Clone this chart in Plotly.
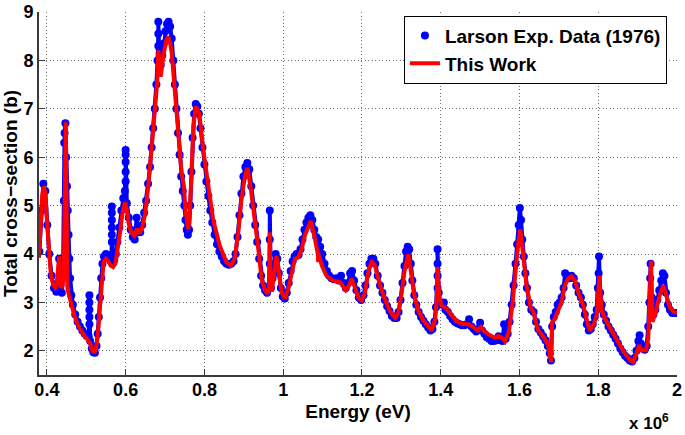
import plotly.graph_objects as go

# Energy in units of 10^6 eV, cross-section in barns
exp_energy = [
    0.381, 0.386, 0.391, 0.396, 0.401, 0.406, 0.412, 0.418, 0.424, 0.428,
    0.431, 0.434, 0.438, 0.441, 0.443, 0.444, 0.445, 0.447, 0.449, 0.451,
    0.453, 0.455, 0.457, 0.459, 0.462, 0.466, 0.472, 0.478, 0.484, 0.490,
    0.496, 0.502, 0.506, 0.508, 0.508, 0.508, 0.508, 0.508, 0.510, 0.514,
    0.518, 0.522, 0.526, 0.529, 0.532, 0.535, 0.538, 0.541, 0.545, 0.550,
    0.555, 0.560, 0.563, 0.565, 0.565, 0.565, 0.565, 0.565, 0.565, 0.567,
    0.571, 0.575, 0.579, 0.584, 0.589, 0.594, 0.598, 0.600, 0.600, 0.600,
    0.600, 0.600, 0.603, 0.608, 0.613, 0.618, 0.623, 0.628, 0.632, 0.637,
    0.642, 0.647, 0.652, 0.657, 0.662, 0.666, 0.670, 0.674, 0.678, 0.681,
    0.683, 0.683, 0.683, 0.686, 0.689, 0.693, 0.697, 0.701, 0.705, 0.709,
    0.713, 0.717, 0.721, 0.725, 0.729, 0.733, 0.737, 0.741, 0.745, 0.749,
    0.752, 0.755, 0.758, 0.761, 0.764, 0.767, 0.770, 0.774, 0.778, 0.782,
    0.786, 0.790, 0.795, 0.800, 0.805, 0.810, 0.815, 0.820, 0.826, 0.832,
    0.838, 0.844, 0.850, 0.856, 0.862, 0.868, 0.874, 0.879, 0.884, 0.889,
    0.894, 0.899, 0.904, 0.909, 0.914, 0.919, 0.924, 0.929, 0.934, 0.939,
    0.944, 0.949, 0.954, 0.959, 0.963, 0.966, 0.966, 0.966, 0.969, 0.973,
    0.977, 0.981, 0.985, 0.989, 0.994, 0.999, 1.004, 1.009, 1.014, 1.019,
    1.024, 1.029, 1.034, 1.039, 1.044, 1.049, 1.054, 1.059, 1.064, 1.069,
    1.074, 1.079, 1.084, 1.089, 1.094, 1.099, 1.105, 1.111, 1.117, 1.123,
    1.129, 1.135, 1.141, 1.147, 1.153, 1.159, 1.165, 1.170, 1.175, 1.180,
    1.186, 1.192, 1.198, 1.204, 1.209, 1.214, 1.219, 1.224, 1.229, 1.234,
    1.240, 1.246, 1.252, 1.258, 1.264, 1.270, 1.276, 1.282, 1.288, 1.293,
    1.298, 1.303, 1.308, 1.312, 1.316, 1.320, 1.324, 1.328, 1.333, 1.338,
    1.344, 1.350, 1.356, 1.362, 1.368, 1.374, 1.379, 1.384, 1.388, 1.392,
    1.392, 1.392, 1.392, 1.395, 1.399, 1.404, 1.408, 1.412, 1.418, 1.424,
    1.430, 1.436, 1.442, 1.448, 1.454, 1.460, 1.466, 1.472, 1.478, 1.484,
    1.490, 1.496, 1.500, 1.505, 1.511, 1.517, 1.523, 1.529, 1.535, 1.541,
    1.547, 1.552, 1.557, 1.561, 1.565, 1.570, 1.575, 1.580, 1.585, 1.590,
    1.594, 1.598, 1.601, 1.604, 1.607, 1.611, 1.615, 1.619, 1.624, 1.630,
    1.636, 1.642, 1.648, 1.654, 1.660, 1.666, 1.672, 1.677, 1.680, 1.683,
    1.687, 1.692, 1.697, 1.702, 1.707, 1.712, 1.716, 1.720, 1.726, 1.732,
    1.738, 1.744, 1.750, 1.756, 1.761, 1.766, 1.771, 1.776, 1.781, 1.786,
    1.791, 1.796, 1.799, 1.801, 1.802, 1.805, 1.809, 1.814, 1.820, 1.826,
    1.832, 1.838, 1.844, 1.850, 1.856, 1.862, 1.868, 1.874, 1.880, 1.886,
    1.892, 1.897, 1.902, 1.905, 1.908, 1.913, 1.918, 1.923, 1.927, 1.930,
    1.932, 1.933, 1.936, 1.940, 1.945, 1.950, 1.955, 1.960, 1.964, 1.968,
    1.972, 1.977, 1.982, 1.988, 1.994, 1.999,
]
exp_sigma = [
    4.05, 4.9, 5.45, 5.3, 4.6, 4.0, 3.55, 3.3, 3.22, 3.4,
    3.9, 3.35, 3.2, 3.6, 5.1, 6.3, 6.5, 6.7, 6.0, 5.4,
    4.9, 4.4, 3.9, 3.5, 3.15, 2.95, 2.75, 2.6, 2.5, 2.42,
    2.35, 2.3, 2.3, 2.55, 2.7, 2.85, 3.0, 3.15, 2.2, 2.05,
    1.97, 1.96, 2.1, 2.35, 2.7, 3.1, 3.5, 3.8, 3.95, 4.0,
    3.98, 3.9, 3.85, 4.25, 4.4, 4.55, 4.7, 4.85, 4.98, 3.85,
    3.88, 4.0, 4.25, 4.55, 4.9, 5.15, 5.3, 5.5, 5.7, 5.9,
    6.05, 6.15, 5.05, 4.75, 4.5, 4.35, 4.3, 4.75, 4.45, 4.45,
    4.6, 4.85, 5.1, 5.45, 5.8, 6.2, 6.6, 7.0, 7.5, 8.0,
    8.3, 8.55, 8.8, 8.0, 7.9, 8.1, 8.35, 8.6, 8.75, 8.8,
    8.7, 8.45, 8.0, 7.5, 7.0, 6.5, 6.05, 5.6, 5.3, 5.0,
    4.7, 4.5, 4.4, 4.5, 5.0, 5.7, 6.4, 6.9, 7.1, 7.05,
    6.9, 6.6, 6.2, 5.85, 5.5, 5.2, 4.9, 4.65, 4.4, 4.2,
    4.05, 3.95, 3.85, 3.8, 3.78, 3.8, 3.85, 4.0, 4.35, 4.8,
    5.25, 5.6, 5.8, 5.88, 5.75, 5.4, 5.0, 4.6, 4.25, 3.9,
    3.55, 3.35, 3.25, 3.2, 3.3, 3.8, 4.3, 4.9, 3.3, 3.5,
    3.75, 4.0, 3.9, 3.6, 3.3, 3.12, 3.08, 3.2, 3.4, 3.65,
    3.85, 3.95, 4.0, 3.98, 4.1, 4.3, 4.5, 4.65, 4.75, 4.8,
    4.7, 4.5, 4.35, 4.3, 4.15, 4.0, 3.8, 3.65, 3.55, 3.5,
    3.48, 3.5, 3.45, 3.55, 3.4, 3.3, 3.4, 3.6, 3.65, 3.45,
    3.25, 3.1, 3.05, 3.15, 3.35, 3.6, 3.8, 3.9, 3.9, 3.8,
    3.55, 3.35, 3.2, 3.05, 2.92, 2.82, 2.72, 2.68, 2.68, 2.8,
    3.05, 3.4, 3.75, 4.05, 4.15, 4.1, 3.8, 3.45, 3.15, 2.95,
    2.8, 2.7, 2.62, 2.55, 2.48, 2.42, 2.45, 2.6, 2.9, 3.3,
    3.55, 3.8, 4.1, 3.2, 3.0, 2.95, 3.0, 2.85, 2.8, 2.72,
    2.65, 2.6, 2.57, 2.55, 2.53, 2.53, 2.55, 2.65, 2.5, 2.45,
    2.4, 2.45, 2.58, 2.42, 2.35, 2.28, 2.25, 2.2, 2.2, 2.22,
    2.3, 2.22, 2.2, 2.55, 2.25, 2.35, 2.6, 2.95, 3.35, 3.8,
    4.2, 4.6, 4.95, 4.7, 4.3, 3.95, 3.6, 3.3, 3.0, 2.85,
    2.8, 2.6, 2.45, 2.38, 2.3, 2.22, 2.1, 1.95, 1.8, 2.5,
    2.7, 2.8, 2.95, 3.0, 3.1, 3.3, 3.6, 3.55, 3.5, 3.55,
    3.5, 3.35, 3.2, 3.1, 2.95, 2.75, 2.55, 2.42, 2.45, 2.55,
    2.7, 2.85, 3.3, 3.6, 3.95, 3.2, 2.95, 2.75, 2.62, 2.5,
    2.42, 2.33, 2.25, 2.15, 2.05, 1.97, 1.9, 1.85, 1.8, 1.78,
    1.85, 2.0, 2.2, 2.32, 2.15, 2.05, 2.02, 2.1, 2.5, 3.0,
    3.5, 3.8, 3.1, 2.75, 2.85, 3.05, 3.25, 3.45, 3.6, 3.55,
    3.2, 2.95, 2.85, 2.78, 2.78, 2.78,
]

model_energy = [
    0.380, 0.384, 0.388, 0.392, 0.396, 0.400, 0.405, 0.410, 0.416, 0.421,
    0.425, 0.428, 0.431, 0.433, 0.436, 0.440, 0.443, 0.446, 0.448, 0.450,
    0.452, 0.456, 0.462, 0.470, 0.479, 0.491, 0.504, 0.510, 0.513, 0.518,
    0.522, 0.527, 0.531, 0.535, 0.539, 0.544, 0.550, 0.556, 0.562, 0.568,
    0.574, 0.580, 0.586, 0.592, 0.599, 0.603, 0.608, 0.614, 0.622, 0.629,
    0.635, 0.642, 0.649, 0.657, 0.666, 0.674, 0.680, 0.683, 0.686, 0.689,
    0.697, 0.703, 0.708, 0.713, 0.717, 0.725, 0.733, 0.742, 0.748, 0.752,
    0.759, 0.763, 0.768, 0.772, 0.778, 0.787, 0.797, 0.810, 0.822, 0.839,
    0.856, 0.867, 0.877, 0.886, 0.894, 0.903, 0.909, 0.917, 0.928, 0.937,
    0.945, 0.954, 0.961, 0.964, 0.966, 0.968, 0.971, 0.977, 0.983, 0.989,
    0.996, 1.004, 1.013, 1.022, 1.030, 1.038, 1.047, 1.055, 1.064, 1.070,
    1.079, 1.085, 1.088, 1.089, 1.090, 1.098, 1.110, 1.127, 1.144, 1.159,
    1.167, 1.174, 1.182, 1.192, 1.199, 1.208, 1.216, 1.225, 1.233, 1.246,
    1.259, 1.271, 1.284, 1.292, 1.301, 1.309, 1.318, 1.325, 1.333, 1.343,
    1.356, 1.369, 1.377, 1.386, 1.390, 1.392, 1.396, 1.402, 1.415, 1.428,
    1.441, 1.453, 1.470, 1.483, 1.494, 1.502, 1.512, 1.525, 1.538, 1.546,
    1.555, 1.563, 1.573, 1.582, 1.590, 1.597, 1.602, 1.610, 1.618, 1.629,
    1.636, 1.640, 1.648, 1.661, 1.673, 1.680, 1.683, 1.690, 1.698, 1.707,
    1.715, 1.724, 1.732, 1.741, 1.752, 1.762, 1.772, 1.779, 1.788, 1.796,
    1.803, 1.808, 1.817, 1.830, 1.843, 1.855, 1.868, 1.881, 1.888, 1.896,
    1.904, 1.910, 1.921, 1.927, 1.931, 1.934, 1.938, 1.946, 1.956, 1.965,
    1.973, 1.982, 1.992, 2.000,
]
model_sigma = [
    3.92, 4.6, 5.2, 5.4, 5.25, 4.7, 4.0, 3.6, 3.35, 3.3,
    3.35, 3.6, 3.95, 3.5, 3.3, 3.35, 3.6, 5.5, 6.72, 5.0,
    3.3, 3.15, 2.94, 2.72, 2.53, 2.36, 2.22, 2.15, 2.05, 1.98,
    1.98, 2.15, 2.5, 3.0, 3.5, 3.83, 3.9, 3.85, 3.76, 3.73,
    3.8, 4.1, 4.45, 4.85, 5.07, 4.9, 4.62, 4.45, 4.38, 4.52,
    4.42, 4.55, 4.8, 5.35, 6.16, 6.92, 7.53, 8.21, 7.75, 7.66,
    8.15, 8.4, 8.49, 8.35, 8.15, 7.33, 6.36, 5.68, 5.4, 4.9,
    4.51, 4.86, 5.81, 6.64, 7.05, 6.91, 6.16, 5.4, 4.72, 4.17,
    3.83, 3.76, 3.9, 4.45, 5.13, 5.61, 5.78, 5.4, 4.75, 4.1,
    3.49, 3.25, 3.18, 3.3, 4.45, 3.3, 3.22, 3.55, 3.96, 3.62,
    3.21, 3.08, 3.28, 3.62, 3.9, 3.93, 4.1, 4.38, 4.58, 4.68,
    4.38, 4.1, 4.0, 3.83, 4.0, 3.76, 3.55, 3.45, 3.42, 3.25,
    3.35, 3.49, 3.28, 3.08, 3.04, 3.21, 3.62, 3.86, 3.76, 3.35,
    3.05, 2.82, 2.68, 2.77, 3.21, 3.69, 4.0, 3.62, 3.14, 2.83,
    2.63, 2.49, 2.42, 2.66, 3.08, 3.73, 3.14, 2.94, 2.87, 2.73,
    2.61, 2.56, 2.55, 2.49, 2.42, 2.49, 2.39, 2.32, 2.27, 2.31,
    2.27, 2.19, 2.39, 2.94, 3.76, 4.24, 4.51, 3.96, 3.35, 2.87,
    2.8, 2.63, 2.42, 2.29, 2.12, 1.77, 2.6, 2.66, 2.83, 3.01,
    3.35, 3.49, 3.54, 3.45, 3.14, 2.94, 2.6, 2.42, 2.53, 2.73,
    3.55, 2.87, 2.66, 2.46, 2.29, 2.12, 1.94, 1.81, 1.77, 1.91,
    2.12, 2.01, 2.01, 2.25, 3.14, 3.86, 2.6, 2.8, 3.14, 3.35,
    3.14, 2.9, 2.8, 2.79,
]

x_ticks = [0.4, 0.6, 0.8, 1.0, 1.2, 1.4, 1.6, 1.8, 2.0]
x_tick_labels = ["0.4", "0.6", "0.8", "1", "1.2", "1.4", "1.6", "1.8", "2"]
y_ticks = [2, 3, 4, 5, 6, 7, 8, 9]

assert len(exp_energy) == len(exp_sigma)
assert len(model_energy) == len(model_sigma)

FONT = "Liberation Sans"
fig = go.Figure()
fig.add_trace(go.Scatter(
    x=exp_energy, y=exp_sigma, mode="lines", showlegend=False,
    line=dict(color="#0000ff", width=4), hoverinfo="skip",
))
fig.add_trace(go.Scatter(
    x=exp_energy, y=exp_sigma, mode="markers", name="Larson Exp. Data (1976)",
    marker=dict(color="#0000ff", size=8, line=dict(width=0)),
))
fig.add_trace(go.Scatter(
    x=model_energy, y=model_sigma, mode="lines", name="This Work",
    line=dict(color="#ff0000", width=4),
))

axis_common = dict(
    showline=True, linecolor="#3a3a3a", linewidth=2, mirror=False,
    ticks="inside", ticklen=6, tickcolor="#3a3a3a", tickwidth=1,
    showgrid=True, gridcolor="#6e6e6e", gridwidth=1, griddash="1px,2.5px",
    zeroline=False, automargin=False,
    tickfont=dict(family=FONT, size=18, color="black", weight="bold"),
)

fig.update_layout(
    width=685, height=435,
    margin=dict(l=39, r=8, t=12, b=60),
    paper_bgcolor="white", plot_bgcolor="white",
    xaxis=dict(
        range=[0.38, 2.0], tickvals=x_ticks, ticktext=x_tick_labels,
        ticklabelstandoff=-3,
        title=dict(text="Energy (eV)", standoff=6,
                   font=dict(family=FONT, size=19, color="black", weight="bold")),
        **axis_common,
    ),
    yaxis=dict(
        range=[1.5, 9], tickvals=y_ticks,
        title=dict(text="Total cross\u2212section (b)", standoff=4,
                   font=dict(family=FONT, size=19, color="black", weight="bold")),
        **axis_common,
    ),
    legend=dict(
        x=0.572, y=0.99, xanchor="left", yanchor="top",
        bgcolor="white", bordercolor="black", borderwidth=1,
        font=dict(family=FONT, size=19, color="black", weight="bold"),
        tracegroupgap=0,
    ),
    annotations=[dict(
        text="x 10<sup>6</sup>", xref="paper", yref="paper",
        x=0.99, y=-0.13, xanchor="right", yanchor="middle", showarrow=False,
        font=dict(family=FONT, size=17, color="black", weight="bold"),
    )],
)

fig.write_html(
    "out.html",
    config={"displayModeBar": False},
    post_script="document.body.style.margin='0';document.body.style.overflow='hidden';",
)
